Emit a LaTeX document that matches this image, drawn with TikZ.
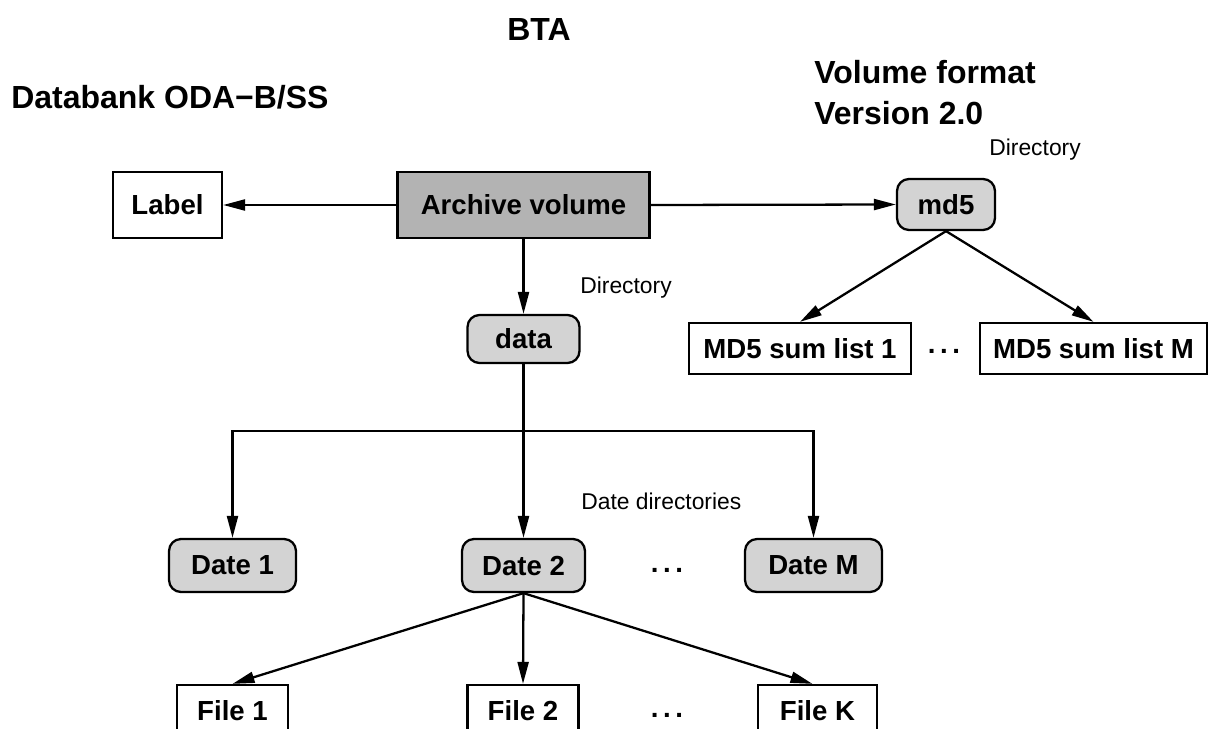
\documentclass[tikz,border=0pt]{standalone}
\usepackage{fontspec}
\setmainfont{Liberation Sans}
\usetikzlibrary{arrows.meta}
\newcommand\myNodeFont{\fontsize{15.7}{18}\selectfont\bfseries}
\newcommand\myHeadFont{\fontsize{18.2}{21}\selectfont\bfseries}
\newcommand\mySmallFont{\fontsize{13.0}{15}\selectfont}
\definecolor{darkbox}{HTML}{B3B3B3}
\definecolor{lightbox}{HTML}{D3D3D3}
\begin{document}
\begin{tikzpicture}[x=0.02cm,y=-0.02cm,
  every node/.style={inner sep=0pt},
  conn/.style={line width=1.3pt, -{Triangle[length=0.44cm,width=0.22cm]}},
  plainline/.style={line width=1.3pt},
  sqbox/.style={draw, line width=1.3pt, font=\myNodeFont, minimum height=1.02cm},
  rbox/.style={draw, line width=1.3pt, fill=lightbox, rounded corners=0.24cm, font=\myNodeFont, minimum height=1.0cm},
  headtext/.style={font=\myHeadFont},
  smalltext/.style={font=\mySmallFont, anchor=west},
  dots/.style={font=\myNodeFont}]
\useasboundingbox (0,0) rectangle (1209,729);
\clip (0,0) rectangle (1209,729);

% headings
\node[headtext] (title) at (539,30) {BTA};
\node[headtext, anchor=west] (databank) at (11,97) {Databank ODA\textminus B/SS};
\node[headtext, anchor=west] (volfmt) at (814,72) {Volume format};
\node[headtext, anchor=west] (version) at (814,113) {Version 2.0};

% small labels
\node[smalltext] (dirtop) at (989,150) {Directory};
\node[smalltext] (dirdata) at (580,288) {Directory};
\node[smalltext] (datedirs) at (581,501) {Date directories};

% top row
\node[sqbox, minimum width=2.18cm, minimum height=1.32cm] (label) at (167.5,205) {Label};
\node[sqbox, fill=darkbox, minimum width=5.04cm, minimum height=1.32cm] (arch) at (523.5,205) {Archive volume};
\node[rbox, minimum width=1.96cm, minimum height=1.02cm] (md5) at (946,204.5) {md5};

% md5 lists
\node[sqbox, minimum width=4.44cm] (md1) at (800,348.5) {MD5 sum list 1};
\node[sqbox, minimum width=4.54cm] (mdM) at (1093.5,348.5) {MD5 sum list M};
\node[dots] (mddots) at (944,351) {.\,.\,.};

% data
\node[rbox, minimum width=2.24cm, minimum height=0.96cm] (data) at (523.5,339) {data};
\coordinate (split) at (523.5,431);

% dates
\node[rbox, minimum width=2.54cm, minimum height=1.06cm] (d1) at (232.5,565.5) {Date 1};
\node[rbox, minimum width=2.46cm, minimum height=1.06cm] (d2) at (523.5,565.5) {Date 2};
\node[rbox, minimum width=2.74cm, minimum height=1.06cm] (dM) at (813.5,565.5) {Date M};
\node[dots] (datedots) at (667,570) {.\,.\,.};

% files
\node[sqbox, minimum width=2.22cm] (f1) at (232.5,710.5) {File 1};
\node[sqbox, minimum width=2.22cm] (f2) at (523,710.5) {File 2};
\node[sqbox, minimum width=2.38cm] (fK) at (817.5,710.5) {File K};
\node[dots] (filedots) at (667,715) {.\,.\,.};

% connectors
\draw[conn] (arch.west) -- (label.east);
\draw[conn] (arch.east) -- (md5.west);
\draw[conn] (arch.south) -- (data.north);
\draw[conn] (md5.south) -- (md1.north);
\draw[conn] (md5.south) -- (mdM.north);
\draw[plainline] (data.south) -- (split);
\draw[conn] (split) -| (d1.north);
\draw[conn] (split) -| (dM.north);
\draw[conn] (split) -- (d2.north);
\draw[conn] (d2.south) -- (f1.north);
\draw[conn] (d2.south) -- (f2.north);
\draw[conn] (d2.south) -- ([xshift=-0.1cm]fK.north);
\end{tikzpicture}
\end{document}
